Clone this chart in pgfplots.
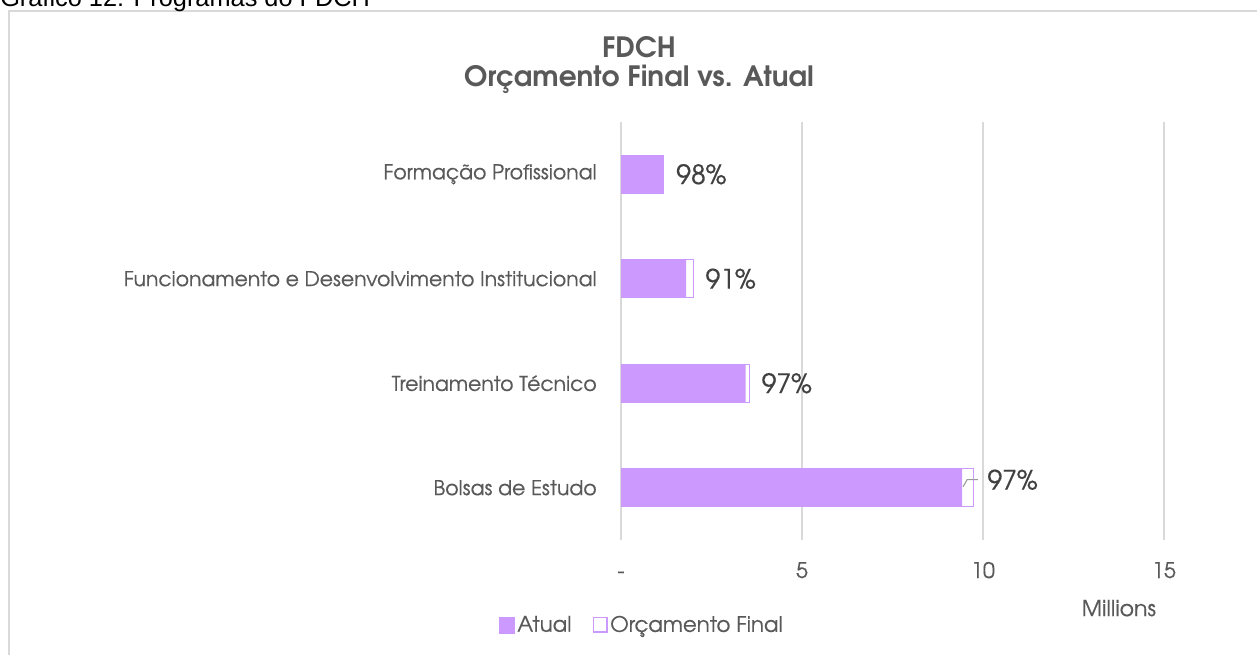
\documentclass[border=0pt]{standalone}
\usepackage{fontspec}
\setmainfont{TeX Gyre Adventor}
\newfontfamily\lab{TeX Gyre Adventor}[FakeBold=0.4]
\newfontfamily\capfont{Liberation Sans}
\usepackage{pgfplots}
\pgfplotsset{compat=1.18}
\definecolor{barc}{HTML}{CC99FF}
\definecolor{txt}{HTML}{595959}
\definecolor{txtd}{HTML}{404040}
\definecolor{grd}{HTML}{D9D9D9}
\begin{document}
\begin{tikzpicture}
\begin{scope}[x=0.75pt,y=0.75pt]
\useasboundingbox (0,0) rectangle (1257,654);
\draw[grd, line width=1.1pt] (9,-5) -- (9,643) -- (1270,643);
\node[anchor=base west, inner sep=0pt, font=\capfont\fontsize{19}{22}\selectfont, text=black] at (0,647) {Gráfico 12: Programas do FDCH};
\node[anchor=base, inner sep=0pt, font=\bfseries\fontsize{21}{25}\selectfont, text=txt] at (639,596) {FDCH};
\node[anchor=base, inner sep=0pt, font=\bfseries\fontsize{21}{25}\selectfont, text=txt] at (639,567) {Orçamento Final vs. Atual};
\end{scope}
\begin{axis}[at={(465.75pt,85.5pt)}, anchor=south west,
  width=407.25pt, height=313.5pt, scale only axis,
  xbar, bar width=28.5pt, bar shift=0pt,
  xmin=0, xmax=15, ymin=-0.5, ymax=3.5,
  ytick={0,1,2,3},
  yticklabels={Bolsas de Estudo, Treinamento Técnico, Funcionamento e Desenvolvimento Institucional, Formação Profissional},
  xtick={0,5,10,15}, xticklabels={-,5,10,15},
  axis line style={draw=none}, major tick length=0pt,
  xmajorgrids, grid style={grd, line width=1.1pt},
  yticklabel style={anchor=east, inner sep=0pt, xshift=-18pt, text=txt, font=\lab\fontsize{15.3}{18}\selectfont},
  xticklabel style={anchor=base, inner sep=0pt, yshift=-28.5pt, text=txt, font=\lab\fontsize{16}{19}\selectfont},
  /pgf/number format/assume math mode=true,
  xlabel={Millions},
  xlabel style={at={(axis description cs:0.917,-0.163)}, anchor=center, text=txt, font=\lab\fontsize{16.5}{19}\selectfont},
  legend columns=2,
  legend style={draw=none, at={(axis description cs:0.0396,-0.203)}, anchor=center, font=\lab\fontsize{16}{19}\selectfont, text=txt,
    /tikz/every even column/.append style={column sep=14pt}},
  legend cell align=left,
]
\addlegendimage{legend image code/.code={\fill[barc] (0pt,-6pt) rectangle (11pt,6pt);}}
\addlegendentry{Atual}
\addlegendimage{legend image code/.code={\draw[barc, line width=1.1pt, fill=white] (0.55pt,-5.45pt) rectangle (10.45pt,5.45pt);}}
\addlegendentry{Orçamento Final}
% Orçamento Final (outline)
\addplot[forget plot, fill=white, draw=barc, line width=0.8pt,
  nodes near coords, point meta=explicit symbolic,
  every node near coord/.append style={anchor=west, inner sep=0pt, xshift=9pt, text=txtd, font=\lab\fontsize{20}{24}\selectfont}]
  table[meta=lab] {
x y lab
3.54 1 97\%
1.99 2 91\%
1.18 3 98\%
};
\addplot[forget plot, fill=white, draw=barc, line width=0.8pt,
  nodes near coords, point meta=explicit symbolic,
  every node near coord/.append style={anchor=west, inner sep=0pt, xshift=9.75pt, yshift=6pt, text=txtd, font=\lab\fontsize{20}{24}\selectfont}]
  table[meta=lab] {
x y lab
9.75 0 97\%
};
% Atual (filled)
\addplot[forget plot, fill=barc, draw=none]
  table {
x y
9.42 0
3.44 1
1.80 2
1.16 3
};
\draw[gray!80, line width=0.8pt] (axis cs:9.45,0.01) -- (axis cs:9.56,0.077) -- (axis cs:9.86,0.077);
\end{axis}
\end{tikzpicture}
\end{document}
